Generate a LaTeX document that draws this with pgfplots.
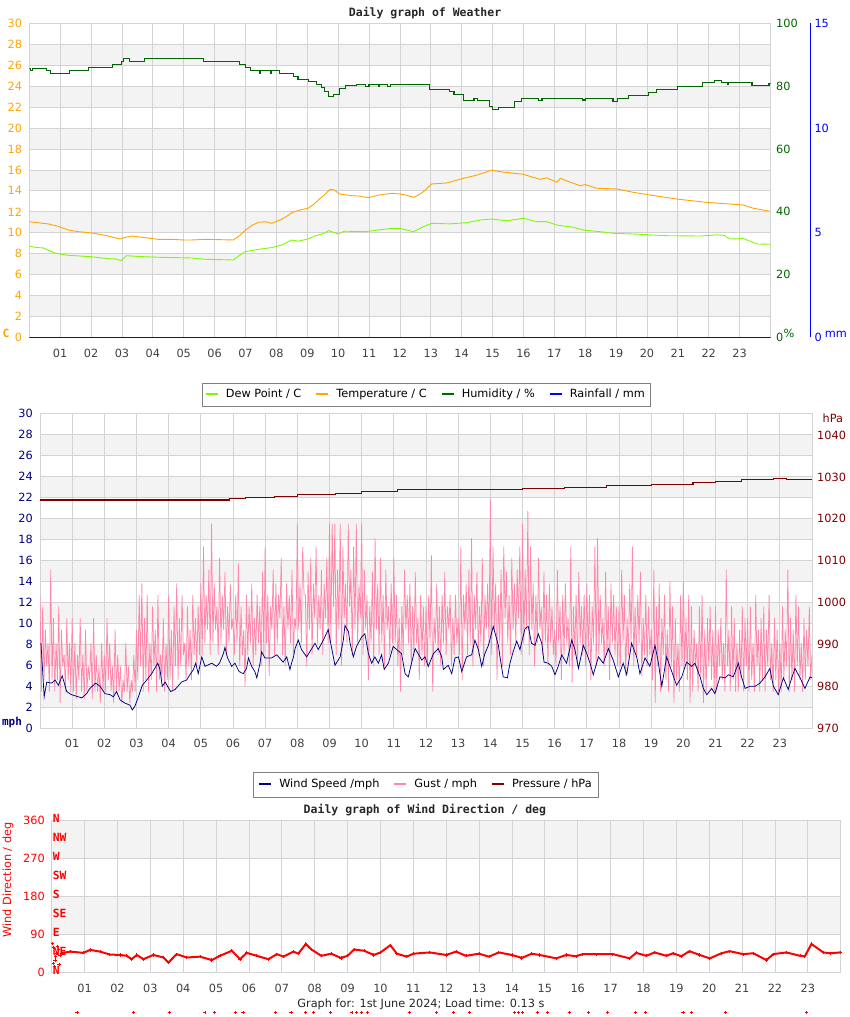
\documentclass[border=0pt]{standalone}
\usepackage{pgfplots}
\usepackage{pgfplotstable}
\pgfplotsset{compat=1.18}
\usepackage{fontspec}
\setmainfont{DejaVu Sans}
\newfontfamily\monofont{DejaVu Sans Mono}
\definecolor{gridc}{HTML}{D3D3D3}
\definecolor{bandc}{HTML}{F3F3F3}
\definecolor{tempc}{HTML}{FFA500}
\definecolor{dewc}{HTML}{7CFC00}
\definecolor{humc}{HTML}{006400}
\definecolor{rainc}{HTML}{0000FF}
\definecolor{windc}{HTML}{000080}
\definecolor{gustc}{HTML}{FF88AA}
\definecolor{presc}{HTML}{800000}
\definecolor{dirc}{HTML}{FF0000}
\definecolor{tickc}{HTML}{404040}
\definecolor{legc}{HTML}{808080}
\newcommand\fs{\fontsize{11.3}{13}\selectfont}
\newcommand\tfs{\monofont\bfseries\fontsize{11.5}{13}\selectfont}
\pgfplotsset{
  base/.style={scale only axis, anchor=south west, xmin=0, xmax=24, clip mode=individual,
    major tick length=0pt, tick label style={font=\fs},
    /pgf/number format/assume math mode=true,
    /pgf/number format/set thousands separator={}},
  band/.style={base, hide axis},
  xgrid/.style={xtick={1,...,23},
    xticklabels={01,02,03,04,05,06,07,08,09,10,11,12,13,14,15,16,17,18,19,20,21,22,23},
    xticklabel style={tickc, anchor=center, yshift=-15.5pt},
    grid=major, grid style={gridc, line width=0.8pt},
    axis line style={gridc, line width=0.8pt}},
  sec/.style={base, axis y line*=right, axis x line=none, y axis line style={draw=none}},
  legimg/.style={legend image code/.code={\draw[##1, line width=2pt] (0pt,0pt) -- (12pt,0pt);}},
}
\pgfplotstableread[row sep=\\]{g\\
12.7\\ 3.5\\ 11.6\\ 4.6\\ 9.4\\ 5.9\\ 8.1\\ 3.5\\ 15.1\\ 4.6\\ 10.5\\ 3.5\\ 8.1\\ 4.6\\ 11.6\\ 2.4\\ 9.4\\ 5.9\\ 7.0\\ 3.5\\ 10.5\\ 4.6\\ 8.1\\ 3.5\\
10.5\\ 3.5\\ 8.1\\ 2.8\\ 7.0\\ 4.6\\ 10.5\\ 3.5\\ 7.0\\ 2.8\\ 9.4\\ 3.5\\ 5.9\\ 4.6\\ 8.1\\ 2.8\\ 10.5\\ 3.5\\ 7.0\\ 3.5\\ 5.9\\ 2.4\\ 8.1\\ 3.5\\
7.0\\ 3.5\\ 10.5\\ 4.6\\ 8.1\\ 3.5\\ 5.9\\ 2.4\\ 9.4\\ 3.5\\ 7.0\\ 3.5\\ 5.9\\ 2.4\\ 4.6\\ 3.5\\ 8.1\\ 3.5\\ 5.9\\ 2.4\\ 4.6\\ 3.5\\ 7.0\\ 3.5\\
9.4\\ 4.6\\ 12.7\\ 5.9\\ 13.8\\ 3.5\\ 10.5\\ 4.6\\ 12.7\\ 3.5\\ 8.1\\ 4.6\\ 11.6\\ 5.9\\ 9.4\\ 3.5\\ 12.7\\ 4.6\\ 7.0\\ 4.6\\ 10.5\\ 3.5\\ 8.1\\ 4.6\\
12.7\\ 4.6\\ 9.4\\ 3.5\\ 11.6\\ 5.9\\ 13.8\\ 4.6\\ 10.5\\ 5.9\\ 12.7\\ 7.0\\ 8.1\\ 4.6\\ 11.6\\ 5.9\\ 9.4\\ 4.6\\ 12.7\\ 7.0\\ 10.5\\ 5.9\\ 11.6\\ 7.0\\
13.8\\ 7.0\\ 17.3\\ 8.1\\ 12.7\\ 9.4\\ 15.1\\ 7.0\\ 19.5\\ 8.1\\ 13.8\\ 9.4\\ 11.6\\ 7.0\\ 16.2\\ 8.1\\ 12.7\\ 9.4\\ 14.9\\ 7.0\\ 11.6\\ 8.1\\ 13.8\\ 9.4\\
10.5\\ 7.0\\ 12.7\\ 8.1\\ 15.7\\ 5.9\\ 11.6\\ 7.0\\ 9.4\\ 4.0\\ 12.7\\ 7.0\\ 11.6\\ 8.1\\ 13.8\\ 5.9\\ 10.5\\ 7.0\\ 12.7\\ 8.1\\ 11.6\\ 5.9\\ 14.9\\ 7.0\\
17.3\\ 8.1\\ 12.7\\ 5.0\\ 11.6\\ 9.4\\ 15.1\\ 7.0\\ 13.8\\ 8.1\\ 12.7\\ 10.5\\ 16.2\\ 7.0\\ 11.6\\ 5.9\\ 13.8\\ 9.4\\ 12.7\\ 8.1\\ 15.1\\ 7.0\\ 10.5\\ 9.4\\
19.5\\ 9.4\\ 13.8\\ 8.1\\ 17.3\\ 12.7\\ 12.7\\ 5.9\\ 14.9\\ 9.4\\ 16.2\\ 7.0\\ 13.8\\ 10.5\\ 17.3\\ 8.1\\ 12.7\\ 9.4\\ 15.1\\ 7.0\\ 13.8\\ 10.5\\ 16.2\\ 8.1\\
19.5\\ 8.1\\ 19.5\\ 11.6\\ 19.5\\ 7.0\\ 15.1\\ 9.4\\ 19.5\\ 6.0\\ 17.3\\ 10.5\\ 13.8\\ 8.1\\ 19.5\\ 11.6\\ 15.1\\ 7.0\\ 17.3\\ 9.4\\ 19.5\\ 8.1\\ 13.8\\ 10.5\\
19.5\\ 7.0\\ 15.1\\ 9.4\\ 12.7\\ 4.6\\ 11.6\\ 8.1\\ 14.9\\ 5.9\\ 18.1\\ 9.4\\ 13.8\\ 7.0\\ 16.2\\ 8.1\\ 12.7\\ 5.9\\ 15.1\\ 9.4\\ 11.6\\ 7.0\\ 13.8\\ 8.1\\
16.2\\ 8.1\\ 12.7\\ 5.9\\ 10.5\\ 3.5\\ 11.6\\ 7.0\\ 15.1\\ 9.4\\ 12.7\\ 8.1\\ 13.8\\ 5.9\\ 11.6\\ 7.0\\ 14.9\\ 8.1\\ 10.5\\ 4.6\\ 12.7\\ 7.0\\ 11.6\\ 5.9\\
11.6\\ 5.9\\ 12.7\\ 8.1\\ 16.5\\ 3.5\\ 10.5\\ 8.1\\ 13.8\\ 7.0\\ 11.6\\ 5.9\\ 12.7\\ 8.1\\ 14.9\\ 7.0\\ 11.6\\ 9.4\\ 12.7\\ 5.9\\ 10.5\\ 7.0\\ 12.7\\ 8.1\\
10.5\\ 7.0\\ 17.3\\ 4.6\\ 12.7\\ 9.4\\ 13.8\\ 7.0\\ 15.1\\ 8.1\\ 18.1\\ 5.9\\ 12.7\\ 9.4\\ 14.9\\ 7.0\\ 11.6\\ 8.1\\ 16.2\\ 5.9\\ 12.7\\ 9.4\\ 13.8\\ 8.1\\
21.9\\ 7.0\\ 17.3\\ 9.4\\ 13.8\\ 4.6\\ 12.7\\ 8.1\\ 15.1\\ 5.9\\ 17.3\\ 10.5\\ 14.9\\ 8.1\\ 12.7\\ 7.0\\ 16.2\\ 9.4\\ 13.8\\ 8.1\\ 15.1\\ 10.5\\ 17.3\\ 7.0\\
19.5\\ 8.1\\ 15.1\\ 9.4\\ 20.7\\ 7.0\\ 17.3\\ 9.4\\ 13.8\\ 5.9\\ 12.7\\ 8.1\\ 16.2\\ 9.4\\ 11.6\\ 7.0\\ 14.9\\ 8.1\\ 12.7\\ 5.9\\ 13.8\\ 8.1\\ 11.6\\ 7.0\\
9.4\\ 5.9\\ 15.1\\ 8.1\\ 11.6\\ 4.6\\ 12.7\\ 7.0\\ 13.8\\ 8.1\\ 10.5\\ 5.9\\ 17.3\\ 4.3\\ 11.6\\ 7.0\\ 12.7\\ 5.9\\ 14.9\\ 8.1\\ 11.6\\ 7.0\\ 12.7\\ 5.9\\
13.8\\ 7.0\\ 12.7\\ 4.6\\ 11.6\\ 8.1\\ 17.3\\ 5.9\\ 18.1\\ 7.0\\ 12.7\\ 8.1\\ 10.5\\ 5.9\\ 14.9\\ 7.0\\ 11.6\\ 4.6\\ 13.8\\ 8.1\\ 12.7\\ 7.0\\ 11.6\\ 5.9\\
11.6\\ 5.9\\ 15.1\\ 8.1\\ 12.7\\ 5.0\\ 10.5\\ 7.0\\ 13.8\\ 8.1\\ 17.3\\ 5.9\\ 11.6\\ 7.0\\ 12.7\\ 8.1\\ 14.9\\ 5.0\\ 10.5\\ 7.0\\ 12.7\\ 5.9\\ 11.6\\ 7.0\\
9.4\\ 4.6\\ 15.1\\ 2.4\\ 11.6\\ 5.9\\ 13.8\\ 3.5\\ 10.5\\ 7.0\\ 12.7\\ 4.6\\ 9.4\\ 3.5\\ 14.0\\ 5.9\\ 11.6\\ 2.4\\ 10.5\\ 4.6\\ 8.1\\ 3.5\\ 12.7\\ 5.9\\
14.0\\ 5.9\\ 10.5\\ 4.6\\ 12.7\\ 2.4\\ 11.6\\ 3.5\\ 9.4\\ 5.9\\ 8.1\\ 3.5\\ 11.6\\ 4.6\\ 12.7\\ 2.4\\ 9.4\\ 3.5\\ 10.5\\ 5.9\\ 11.6\\ 4.6\\ 9.4\\ 3.5\\
11.6\\ 3.5\\ 9.4\\ 5.9\\ 10.5\\ 4.6\\ 8.1\\ 3.5\\ 15.1\\ 5.9\\ 9.4\\ 3.5\\ 11.6\\ 4.6\\ 10.5\\ 3.5\\ 8.1\\ 3.5\\ 9.4\\ 4.6\\ 11.6\\ 3.5\\ 10.5\\ 5.9\\
10.5\\ 3.5\\ 11.6\\ 4.6\\ 8.1\\ 3.5\\ 12.7\\ 5.9\\ 9.4\\ 3.5\\ 10.5\\ 4.6\\ 11.6\\ 3.5\\ 9.4\\ 5.9\\ 12.7\\ 4.6\\ 8.1\\ 3.5\\ 10.5\\ 4.6\\ 9.4\\ 3.5\\
8.1\\ 3.5\\ 11.6\\ 4.6\\ 9.4\\ 5.9\\ 15.1\\ 3.5\\ 10.5\\ 4.6\\ 9.4\\ 3.5\\ 12.7\\ 5.9\\ 11.6\\ 4.6\\ 8.1\\ 3.5\\ 10.5\\ 4.6\\ 9.4\\ 5.9\\ 11.6\\ 4.6\\
7.0\\
}\gustdata
\begin{document}
\begin{tikzpicture}
\path[use as bounding box] (0pt,0pt) rectangle (850pt,1017pt);
% ================= TOP CHART =================
\begin{axis}[band, at={(29.3pt,679.5pt)}, width=741.2pt, height=314.2pt, ymin=0, ymax=30]
\fill[bandc] (axis cs:0,2) rectangle (axis cs:24,4);
\fill[bandc] (axis cs:0,6) rectangle (axis cs:24,8);
\fill[bandc] (axis cs:0,10) rectangle (axis cs:24,12);
\fill[bandc] (axis cs:0,14) rectangle (axis cs:24,16);
\fill[bandc] (axis cs:0,18) rectangle (axis cs:24,20);
\fill[bandc] (axis cs:0,22) rectangle (axis cs:24,24);
\fill[bandc] (axis cs:0,26) rectangle (axis cs:24,28);
\end{axis}
\begin{axis}[base, xgrid, legimg, at={(29.3pt,679.5pt)}, width=741.2pt, height=314.2pt,
  ymin=0, ymax=30, ytick={0,2,...,30},
  yticklabel style={tempc, anchor=east, inner sep=0pt, xshift=-7pt},
  legend style={at={(0.535,-0.181)}, anchor=center, draw=legc, fill=white, font=\fs,
    inner xsep=3pt, inner ysep=4.5pt,
    /tikz/every odd column/.append style={column sep=5pt},
    /tikz/every even column/.append style={column sep=12pt}},
  legend columns=4]
\addplot[dewc, line width=0.9pt] coordinates {(0,8.74)(0.2,8.6)(0.45,8.55)(0.85,8.04)(1.26,7.85)(1.97,7.72)(2.55,7.53)(2.8,7.5)(2.97,7.34)(3.15,7.81)(3.64,7.72)(4.18,7.66)(5.26,7.59)(5.69,7.47)(6.6,7.4)(6.98,8.19)(7.42,8.42)(7.85,8.58)(8.17,8.83)(8.5,9.31)(8.7,9.2)(8.98,9.37)(9.25,9.69)(9.5,9.9)(9.7,10.2)(10.0,9.88)(10.2,10.15)(10.87,10.1)(11.3,10.26)(11.74,10.42)(12.0,10.42)(12.44,10.1)(12.76,10.58)(13.03,10.9)(13.62,10.85)(14.16,10.96)(14.6,11.22)(14.97,11.31)(15.46,11.15)(16.0,11.38)(16.43,11.06)(16.75,11.06)(17.08,10.74)(17.62,10.52)(17.94,10.26)(18.48,10.1)(18.9,9.95)(19.56,9.88)(20.64,9.72)(21.72,9.69)(22.26,9.8)(22.5,9.75)(22.69,9.4)(23.12,9.45)(23.56,8.93)(24,8.9)};
\addlegendentry{Dew Point / C}
\addplot[tempc, line width=0.9pt] coordinates {(0,11.06)(0.3,10.95)(0.6,10.85)(0.95,10.6)(1.26,10.26)(1.6,10.1)(1.97,10.0)(2.3,9.85)(2.55,9.69)(2.94,9.4)(3.1,9.55)(3.32,9.69)(3.75,9.53)(4.18,9.37)(4.6,9.37)(5.0,9.31)(5.26,9.31)(5.69,9.37)(6.2,9.34)(6.6,9.31)(6.8,9.7)(6.98,10.2)(7.2,10.7)(7.42,11.0)(7.65,11.05)(7.85,10.9)(8.17,11.28)(8.35,11.6)(8.5,11.92)(8.8,12.2)(9.03,12.34)(9.2,12.7)(9.36,13.13)(9.55,13.6)(9.74,14.15)(9.85,14.1)(9.95,13.92)(10.06,13.7)(10.44,13.54)(10.7,13.5)(10.98,13.35)(11.3,13.6)(11.74,13.77)(12.0,13.7)(12.2,13.6)(12.44,13.39)(12.6,13.6)(12.76,13.92)(13.03,14.66)(13.51,14.75)(13.94,15.1)(14.2,15.3)(14.49,15.5)(14.75,15.75)(14.97,15.99)(15.24,15.83)(15.68,15.68)(16.0,15.58)(16.3,15.3)(16.54,15.1)(16.75,15.25)(17.08,14.82)(17.2,15.2)(17.4,14.95)(17.83,14.5)(18.0,14.6)(18.37,14.25)(19.02,14.18)(19.56,13.86)(20.1,13.6)(20.96,13.22)(21.94,12.9)(23.12,12.65)(23.45,12.34)(23.97,12.05)};
\addlegendentry{Temperature / C}
\addlegendimage{humc}
\addlegendentry{Humidity / \%}
\addplot[rainc, line width=1.2pt] coordinates {(0,0)(24,0)};
\addlegendentry{Rainfall / mm}
\node[tempc, font=\monofont\bfseries\fs] at (rel axis cs:-0.0314,0.0143) {C};
\node[font=\tfs, text=black!85] at (rel axis cs:0.534,1.033) {Daily graph of Weather};
\node[humc, font=\fs] at (rel axis cs:1.025,0.013) {\%};
\node[rainc, font=\fs] at (rel axis cs:1.0883,0.010) {mm};
\end{axis}
\begin{axis}[sec, at={(29.3pt,679.5pt)}, width=741.2pt, height=314.2pt,
  ymin=0, ymax=100, ytick={0,20,...,100},
  yticklabel style={humc, anchor=west, inner sep=0pt, xshift=5.5pt}]
\addplot[humc, line width=1.1pt, const plot] coordinates {(0,85.7)(0.05,85.0)(0.09,85.7)(0.55,85.0)(0.70,84.1)(1.30,85.0)(1.92,86.0)(2.70,86.9)(2.98,87.8)(3.05,88.7)(3.25,87.9)(3.72,88.7)(5.65,87.9)(6.80,86.9)(7.00,86.0)(7.15,85.0)(7.45,84.1)(7.50,85.0)(7.80,84.1)(7.85,85.0)(8.10,84.1)(8.55,83.0)(8.70,82.0)(9.05,81.5)(9.30,80.5)(9.45,79.5)(9.55,78.2)(9.70,76.6)(9.85,77.2)(10.05,79.3)(10.25,80.1)(10.6,80.6)(10.9,80.0)(11.0,80.6)(11.3,80.0)(11.35,80.6)(11.6,80.0)(11.7,80.6)(12.3,80.4)(12.95,78.8)(13.6,78.3)(13.75,77.2)(14.05,75.5)(14.4,76.0)(14.5,75.5)(14.9,73.5)(15.0,72.6)(15.2,73.3)(15.7,75.0)(15.95,76.1)(16.5,75.5)(16.6,76.1)(17.2,76.1)(17.9,75.6)(18.0,76.1)(18.9,75.0)(19.05,76.1)(19.4,76.9)(20.05,77.9)(20.3,79.0)(21.0,79.8)(21.8,81.1)(22.2,81.7)(22.4,81.1)(22.6,80.4)(22.65,81.1)(23.4,80.1)(23.95,80.9)(24,80.9)};
\end{axis}
\begin{axis}[scale only axis, anchor=south west, at={(809.3pt,679.5pt)}, width=1pt, height=314.2pt,
  xmin=0, xmax=1, ymin=0, ymax=15, ytick={0,5,10,15}, axis y line*=right, axis x line=none,
  major tick length=0pt, y axis line style={rainc, line width=1.2pt},
  tick label style={font=\fs}, /pgf/number format/assume math mode=true,
  yticklabel style={rainc, anchor=west, inner sep=0pt, xshift=4pt}]
\addplot[draw=none] coordinates {(0,0)(1,15)};
\end{axis}
% ================= MIDDLE CHART =================
\begin{axis}[band, at={(40pt,288.7pt)}, width=772pt, height=315pt, ymin=0, ymax=30]
\fill[bandc] (axis cs:0,2) rectangle (axis cs:24,4);
\fill[bandc] (axis cs:0,6) rectangle (axis cs:24,8);
\fill[bandc] (axis cs:0,10) rectangle (axis cs:24,12);
\fill[bandc] (axis cs:0,14) rectangle (axis cs:24,16);
\fill[bandc] (axis cs:0,18) rectangle (axis cs:24,20);
\fill[bandc] (axis cs:0,22) rectangle (axis cs:24,24);
\fill[bandc] (axis cs:0,26) rectangle (axis cs:24,28);
\end{axis}
\begin{axis}[base, xgrid, legimg, at={(40pt,288.7pt)}, width=772pt, height=315pt,
  ymin=0, ymax=30, ytick={0,2,...,30},
  yticklabel style={windc, anchor=east, inner sep=0pt, xshift=-7pt},
  legend style={at={(0.5,-0.178)}, anchor=center, draw=legc, fill=white, font=\fs,
    inner xsep=5pt, inner ysep=5.5pt,
    /tikz/every odd column/.append style={column sep=5pt},
    /tikz/every even column/.append style={column sep=12pt}},
  legend columns=3]
\addlegendimage{windc}
\addlegendentry{Wind Speed /mph}
\addlegendimage{gustc}
\addlegendentry{Gust / mph}
\addlegendimage{presc}
\addlegendentry{Pressure / hPa}
\addplot[gustc, line width=0.75pt, forget plot] table[x expr=\coordindex/24, y=g] {\gustdata};
\addplot[windc, line width=0.75pt, forget plot] coordinates {(0.03,8.1)(0.13,3.0)(0.21,4.4)(0.36,4.3)(0.47,4.6)(0.57,4.1)(0.69,5.0)(0.83,3.5)(0.98,3.2)(1.19,3.0)(1.30,2.9)(1.45,3.3)(1.55,3.8)(1.73,4.3)(1.87,4.0)(2.02,3.3)(2.18,3.2)(2.28,3.0)(2.38,3.5)(2.49,2.7)(2.64,2.4)(2.80,2.2)(2.87,1.75)(2.95,2.1)(3.06,3.0)(3.18,4.1)(3.32,4.6)(3.47,5.2)(3.66,6.2)(3.73,5.6)(3.80,4.0)(3.89,4.4)(4.06,3.5)(4.20,3.7)(4.40,4.4)(4.56,4.6)(4.66,5.1)(4.77,5.6)(4.84,6.2)(4.92,5.2)(5.03,6.8)(5.13,5.9)(5.34,6.2)(5.49,5.9)(5.58,6.2)(5.70,7.1)(5.75,7.7)(5.83,6.7)(5.96,5.9)(6.06,6.2)(6.19,5.4)(6.32,5.2)(6.42,5.7)(6.48,6.7)(6.58,5.9)(6.68,5.4)(6.74,4.8)(6.84,6.2)(6.89,7.3)(6.99,6.7)(7.20,6.7)(7.36,7.0)(7.56,6.3)(7.67,6.8)(7.77,5.6)(7.82,6.2)(7.88,6.8)(7.93,7.6)(8.03,8.4)(8.13,7.5)(8.29,6.8)(8.55,8.1)(8.65,7.5)(8.81,8.4)(8.96,9.4)(9.05,7.9)(9.12,6.8)(9.17,6.0)(9.33,6.8)(9.43,8.4)(9.48,9.8)(9.59,9.2)(9.64,8.1)(9.74,6.8)(9.84,7.8)(10.00,8.7)(10.10,9.0)(10.21,7.1)(10.31,6.2)(10.41,6.8)(10.52,6.2)(10.62,7.0)(10.70,5.6)(10.83,6.2)(10.98,7.8)(11.09,7.5)(11.24,7.1)(11.35,5.2)(11.45,4.9)(11.55,6.2)(11.66,7.6)(11.87,6.5)(11.97,6.8)(12.07,5.9)(12.23,7.1)(12.38,7.6)(12.49,6.8)(12.54,5.6)(12.69,6.0)(12.80,5.2)(12.90,6.7)(13.01,6.8)(13.11,5.4)(13.26,6.8)(13.42,7.0)(13.52,8.4)(13.63,7.5)(13.73,5.9)(13.83,7.1)(13.94,7.9)(14.09,9.7)(14.25,7.9)(14.30,6.8)(14.40,4.9)(14.53,4.8)(14.61,6.2)(14.71,7.3)(14.82,8.3)(14.92,7.5)(15.08,9.5)(15.18,9.7)(15.28,8.1)(15.39,7.9)(15.49,9.0)(15.60,8.1)(15.67,6.3)(15.80,6.2)(15.91,5.9)(16.01,5.1)(16.11,5.9)(16.22,7.0)(16.37,6.2)(16.53,8.4)(16.63,7.5)(16.74,5.7)(16.89,7.9)(17.00,7.1)(17.10,6.2)(17.20,5.1)(17.36,6.8)(17.51,6.2)(17.67,7.6)(17.82,6.5)(17.98,4.9)(18.13,6.2)(18.24,5.1)(18.39,8.1)(18.55,6.8)(18.65,5.2)(18.81,6.7)(18.96,5.9)(19.12,7.9)(19.22,6.3)(19.33,4.0)(19.48,6.8)(19.64,5.4)(19.79,4.1)(19.95,4.9)(20.10,6.3)(20.26,5.9)(20.36,6.2)(20.52,4.9)(20.62,3.8)(20.73,3.2)(20.88,3.8)(20.98,3.3)(21.14,4.9)(21.30,4.8)(21.40,5.1)(21.55,4.9)(21.71,6.2)(21.81,4.9)(21.92,3.8)(22.07,4.0)(22.23,4.0)(22.38,4.3)(22.54,4.9)(22.69,5.7)(22.80,4.0)(22.95,3.2)(23.11,4.8)(23.26,3.7)(23.37,4.8)(23.47,5.7)(23.63,4.8)(23.78,3.8)(23.94,4.9)(24.0,4.8)};
\node[windc, font=\monofont\bfseries\fontsize{11}{13}\selectfont] at (rel axis cs:-0.0363,0.02) {mph};
\node[presc, font=\fs] at (rel axis cs:1.027,0.985) {hPa};
\end{axis}
\begin{axis}[sec, at={(40pt,288.7pt)}, width=772pt, height=315pt,
  ymin=970, ymax=1045.2, ytick={970,980,...,1040},
  yticklabel style={presc, anchor=west, inner sep=0pt, xshift=5pt}]
\addplot[presc, line width=1.1pt, const plot] coordinates {(0,1024.5)(5.9,1024.8)(6.4,1025.0)(7.3,1025.3)(8.0,1025.8)(9.2,1026.1)(10.0,1026.6)(11.1,1027.0)(12.0,1027.1)(14.0,1026.9)(15.0,1027.3)(16.3,1027.5)(17.6,1027.9)(19.0,1028.3)(20.3,1028.7)(21.0,1029.0)(21.8,1029.4)(22.8,1029.6)(23.2,1029.3)(24,1029.3)};
\end{axis}
% ================= BOTTOM CHART =================
\begin{axis}[band, at={(51.7pt,44.3pt)}, width=789pt, height=152pt, ymin=0, ymax=360]
\fill[bandc] (axis cs:0,90) rectangle (axis cs:24,180);
\fill[bandc] (axis cs:0,270) rectangle (axis cs:24,360);
\end{axis}
\begin{axis}[base, xgrid, at={(51.7pt,44.3pt)}, width=789pt, height=152pt,
  ymin=0, ymax=360, ytick={0,90,180,270,360}, clip=false,
  yticklabel style={dirc, anchor=east, inner sep=0pt, xshift=-6.7pt}]
\addplot[dirc, only marks, mark=+, mark size=1.6pt, line width=0.8pt] coordinates {(0.03,69)(0.05,60)(0.06,22)(0.08,14)(0.1,30)(0.12,38)(0.15,45)(0.18,62)(0.2,55)(0.22,20)(0.25,40)};
\addplot[dirc, line width=2pt, mark=+, mark size=1.6pt, mark options={line width=0.8pt}] coordinates {(0.3,46)(0.56,50)(0.96,47)(1.17,54)(1.47,50)(1.77,43)(2.08,42)(2.28,40)(2.43,32)(2.59,42)(2.79,32)(3.09,42)(3.40,36)(3.55,24)(3.80,44)(4.11,36)(4.51,38)(4.87,30)(5.12,40)(5.48,52)(5.73,32)(5.93,47)(6.24,40)(6.59,32)(6.85,44)(7.05,38)(7.35,50)(7.5,45)(7.73,68)(7.9,55)(8.2,40)(8.5,45)(8.8,35)(9.0,40)(9.2,55)(9.5,52)(9.8,42)(10.0,48)(10.3,65)(10.5,45)(10.8,38)(11.0,45)(11.5,48)(12.0,42)(12.3,50)(12.6,40)(13.0,45)(13.3,38)(13.6,48)(14.0,42)(14.3,35)(14.6,45)(14.84,42)(15.35,34)(15.65,42)(15.95,39)(16.15,44)(16.56,44)(17.07,44)(17.58,34)(17.78,47)(18.09,40)(18.34,48)(18.7,40)(18.9,46)(19.15,39)(19.4,51)(19.71,42)(20.02,34)(20.37,46)(20.62,51)(21.03,44)(21.34,46)(21.74,30)(21.95,44)(22.35,48)(22.76,40)(22.91,39)(23.11,68)(23.47,48)(23.68,46)(23.98,48)};
\addplot[dirc, only marks, mark=+, mark size=1.6pt, line width=0.7pt] coordinates {(0.77,-95)(2.48,-95)(3.58,-95)(4.66,-95)(4.94,-95)(5.58,-95)(5.82,-95)(6.8,-95)(7.28,-95)(7.73,-95)(7.97,-95)(8.49,-95)(9.13,-95)(9.28,-95)(9.43,-95)(9.61,-95)(10.89,-95)(11.71,-95)(12.23,-95)(12.71,-95)(14.08,-95)(14.2,-95)(14.32,-95)(14.78,-95)(15.08,-95)(15.75,-95)(16.33,-95)(16.91,-95)(17.76,-95)(18.06,-95)(19.2,-95)(19.46,-95)(20.5,-95)(22.96,-95)};
\node[font=\tfs, text=black!85] at (rel axis cs:0.473,1.070) {Daily graph of Wind Direction / deg};
\node[font=\fs, text=black!85] at (rel axis cs:0.468,-0.206) {Graph for: 1st June 2024; Load time: 0.13 s};
\node[dirc, font=\fs, rotate=90] at (rel axis cs:-0.0554,0.61) {Wind Direction / deg};
\foreach \v/\t in {0/N,45/NE,90/E,135/SE,180/S,225/SW,270/W,315/NW,360/N}{
  \edef\tmp{\noexpand\node[dirc, font=\noexpand\monofont\noexpand\bfseries\noexpand\fs, anchor=west, inner sep=0pt, xshift=1pt, yshift=2.5pt] at (axis cs:0,\v) {\t};}\tmp
}
\end{axis}
\end{tikzpicture}
\end{document}
